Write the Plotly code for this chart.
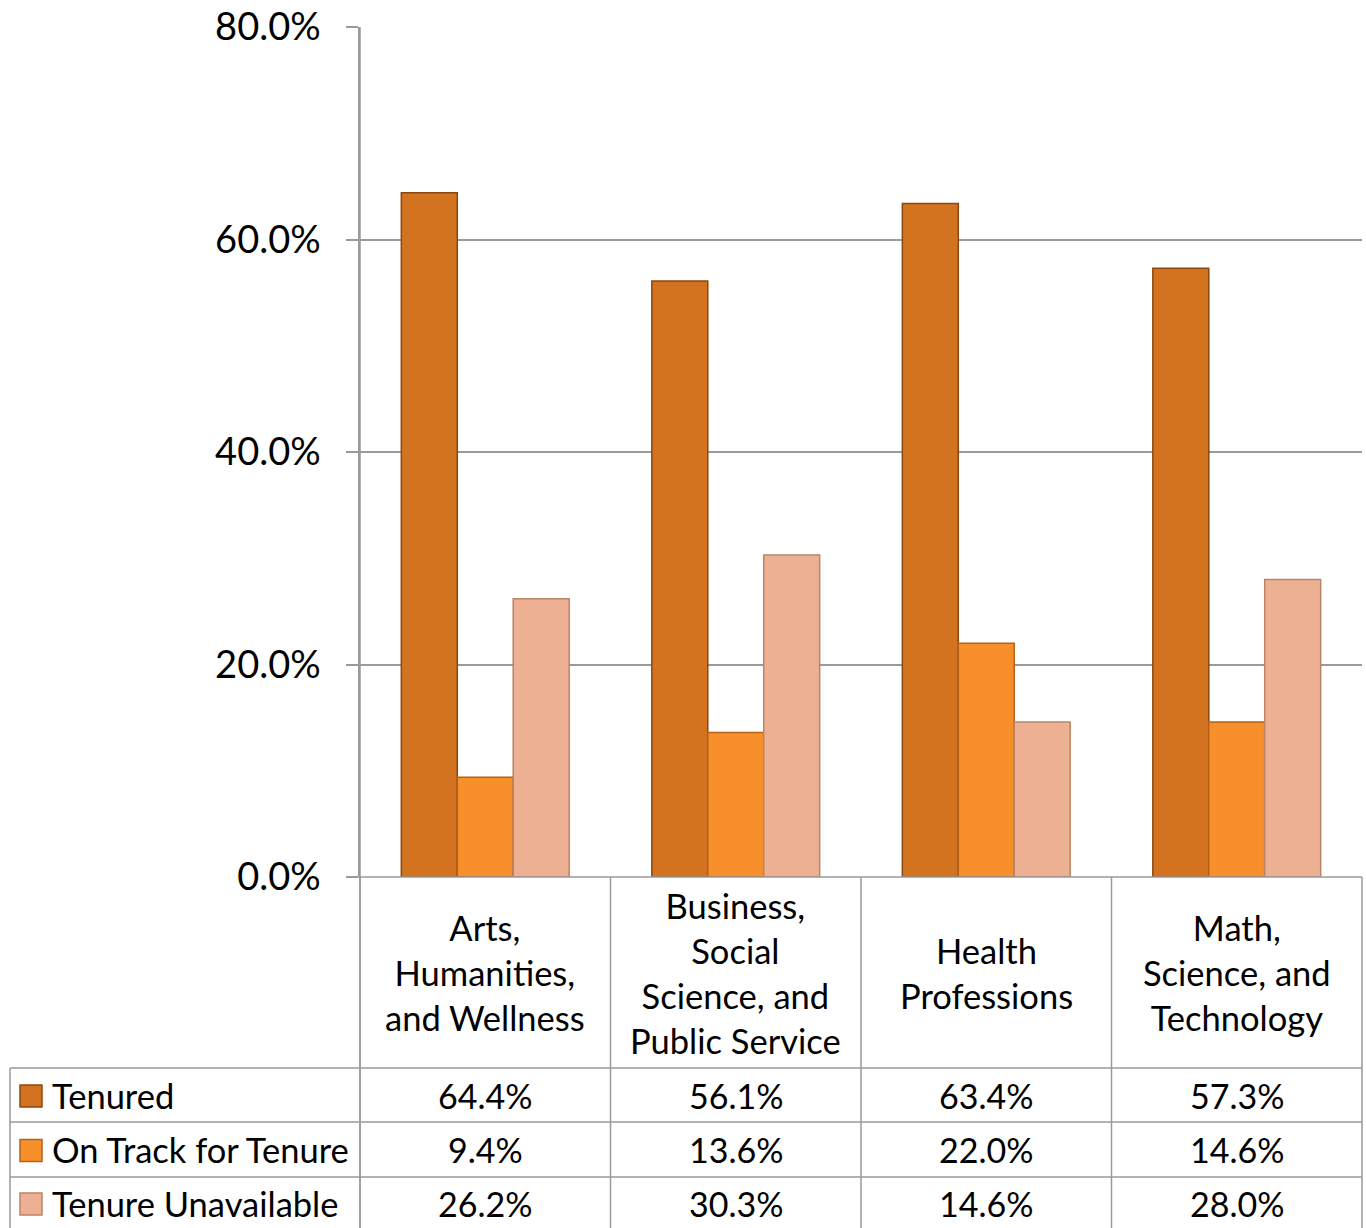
import plotly.graph_objects as go

categories = ["Arts,<br>Humanities,<br>and Wellness",
              "Business,<br>Social<br>Science, and<br>Public Service",
              "Health<br>Professions",
              "Math,<br>Science, and<br>Technology"]
series_names = ["Tenured", "On Track for Tenure", "Tenure Unavailable"]
tenured = [64.4, 56.1, 63.4, 57.3]
on_track = [9.4, 13.6, 22.0, 14.6]
unavailable = [26.2, 30.3, 14.6, 28.0]
tick_vals = [0, 20, 40, 60, 80]
tick_text = ["0.0%", "20.0%", "40.0%", "60.0%", "80.0%"]

series_values = [tenured, on_track, unavailable]
fills = ["#D4731F", "#F78F2B", "#EDB092"]
edges = ["#8A4710", "#B4621A", "#B98468"]

W, H = 1366, 1228
FONT = "Lato"
GRID = "#9A9A9A"

def px(x):
    return x / W

def py(y):
    return 1 - y / H

# geometry (pixels)
X0, X1 = 360, 1362
Y_TOP, Y_ZERO = 27, 877
ROWS = [1068, 1122, 1177, 1231]
TABLE_LEFT = 10

fig = go.Figure()
for name, vals, fc, ec in zip(series_names, series_values, fills, edges):
    fig.add_trace(go.Bar(
        x=categories, y=vals, name=name,
        marker=dict(color=fc, line=dict(color=ec, width=1.5)),
        showlegend=False, hoverinfo="skip"))

fig.update_layout(
    width=W, height=H,
    margin=dict(l=0, r=0, t=0, b=0, autoexpand=False),
    paper_bgcolor="white", plot_bgcolor="white",
    barmode="group", bargap=0.33, bargroupgap=0,
    font=dict(family=FONT, color="#000000"),
    xaxis=dict(domain=[px(X0), px(X1)], showticklabels=False, showgrid=False,
               zeroline=False, showline=False, ticks="", automargin=False),
    yaxis=dict(domain=[py(Y_ZERO), py(Y_TOP)], range=[0, 80],
               tickvals=tick_vals, ticktext=tick_text,
               tickfont=dict(family=FONT, size=38, color="#000000"),
               ticks="outside", ticklen=12, tickcolor=GRID, tickwidth=1.5,
               ticklabelstandoff=18, automargin=False,
               showgrid=True, gridcolor=GRID, gridwidth=1.5,
               zeroline=False, showline=True, linecolor=GRID, linewidth=1.5),
)

shapes = []
def line(x0, y0, x1, y1):
    shapes.append(dict(type="line", xref="paper", yref="paper",
                       x0=px(x0), y0=py(y0), x1=px(x1), y1=py(y1),
                       line=dict(color=GRID, width=1.5)))

# zero/baseline
line(348, Y_ZERO, X1, Y_ZERO)
# table horizontal lines
for r in ROWS[:-1]:
    line(TABLE_LEFT, r, X1, r)
# table verticals
ncat = len(categories)
colw = (X1 - X0) / ncat
for i in range(ncat + 1):
    line(X0 + i * colw, Y_ZERO, X0 + i * colw, H)
line(X0, Y_TOP, X0, H)
line(TABLE_LEFT, ROWS[0], TABLE_LEFT, H)

annotations = []
# category header labels
for i, c in enumerate(categories):
    annotations.append(dict(xref="paper", yref="paper",
                            x=px(X0 + (i + 0.5) * colw), y=py((Y_ZERO + ROWS[0]) / 2),
                            text=c, showarrow=False, xanchor="center", yanchor="middle",
                            font=dict(family=FONT, size=34.5, color="#000000")))
# table rows
for r, (name, vals, fc, ec) in enumerate(zip(series_names, series_values, fills, edges)):
    yc = (ROWS[r] + ROWS[r + 1]) / 2 if r < 2 else (ROWS[r] + 1229) / 2
    # legend key
    shapes.append(dict(type="rect", xref="paper", yref="paper",
                       x0=px(20), x1=px(42), y0=py(yc - 10), y1=py(yc + 12),
                       fillcolor=fc, line=dict(color=ec, width=1.5)))
    annotations.append(dict(xref="paper", yref="paper", x=px(50), y=py(yc),
                            text=name, showarrow=False, xanchor="left", yanchor="middle",
                            font=dict(family=FONT, size=34.5, color="#000000")))
    for i, v in enumerate(vals):
        annotations.append(dict(xref="paper", yref="paper",
                                x=px(X0 + (i + 0.5) * colw), y=py(yc),
                                text=f"{v:.1f}%", showarrow=False,
                                xanchor="center", yanchor="middle",
                                font=dict(family=FONT, size=34, color="#000000")))

fig.update_layout(shapes=shapes, annotations=annotations)
fig.write_html("out.html", config={"displayModeBar": False},
               post_script="document.body.style.margin='0';document.body.style.overflow='hidden';")
